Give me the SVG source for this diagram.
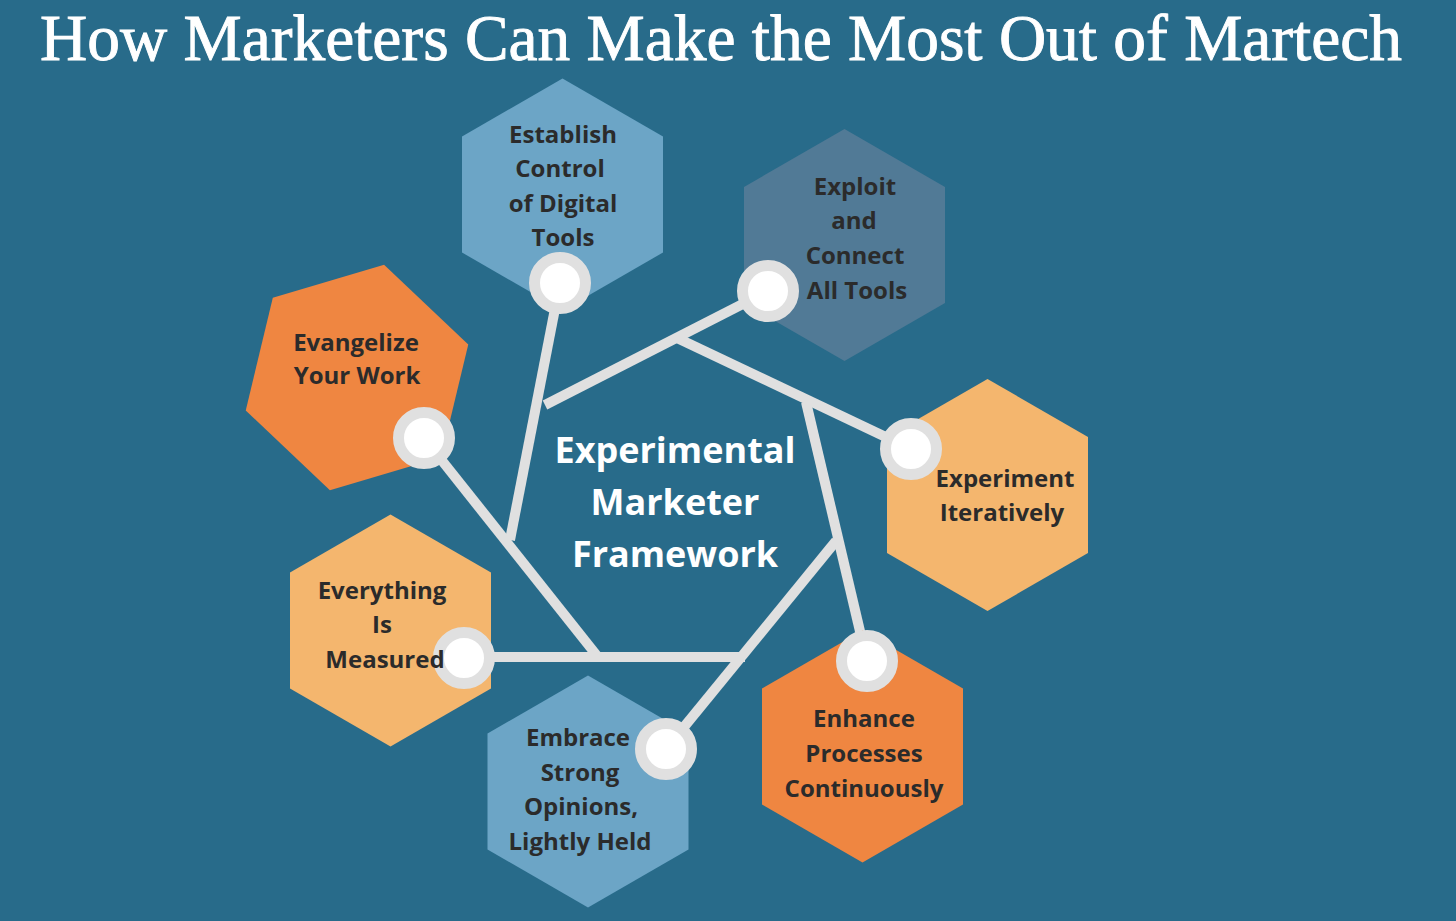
<svg xmlns="http://www.w3.org/2000/svg" width="1456" height="921" viewBox="0 0 1456 921">
<style>
.bg{fill:#286b8a}
.title{font-family:"Liberation Serif",serif;font-size:65px;fill:#ffffff;stroke:#ffffff;stroke-width:0.9}
.lbl{font-family:"Open Sans","Noto Sans",sans-serif;font-weight:700;font-size:24px;fill:#2b2b2b;text-anchor:middle}
.ctr{font-family:"Open Sans","Noto Sans",sans-serif;font-weight:700;font-size:36px;fill:#ffffff;text-anchor:middle}
.blue{fill:#6ca5c6}
.slate{fill:#517a96}
.orange{fill:#ef8641}
.peach{fill:#f4b66e}
.ring{fill:#ffffff;stroke:#e0e0e0;stroke-width:11}
.link{stroke:#e0e0e0;stroke-width:10;fill:none;stroke-linecap:butt}
</style>
<rect class="bg" x="0" y="0" width="1456" height="921"/>
<text class="title" x="40" y="60" textLength="1362" lengthAdjust="spacingAndGlyphs">How Marketers Can Make the Most Out of Martech</text>

<g id="connectors">
<line class="link" x1="510" y1="540" x2="560" y2="283"/>
<line class="link" x1="545" y1="405" x2="768" y2="291"/>
<line class="link" x1="677" y1="338" x2="911" y2="449"/>
<line class="link" x1="806" y1="402" x2="867" y2="661"/>
<line class="link" x1="836" y1="541" x2="666" y2="749"/>
<line class="link" x1="745" y1="657" x2="464" y2="657"/>
<line class="link" x1="598" y1="657" x2="424" y2="438"/>
</g>

<g id="center">
<text class="ctr" x="675" y="463">Experimental</text>
<text class="ctr" x="675" y="515">Marketer</text>
<text class="ctr" x="675" y="567">Framework</text>
</g>

<g id="establish">
<polygon class="blue" points="562.5,78.5 663,136.5 663,252.5 562.5,310.5 462,252.5 462,136.5"/>
<circle class="ring" cx="560" cy="283" r="25.5"/>
<text class="lbl" x="563" y="143">Establish</text>
<text class="lbl" x="560" y="177">Control</text>
<text class="lbl" x="563" y="212">of Digital</text>
<text class="lbl" x="563" y="246">Tools</text>
</g>

<g id="exploit">
<polygon class="slate" points="844.5,129 945,187 945,303 844.5,361 744,303 744,187"/>
<circle class="ring" cx="768" cy="291" r="25.5"/>
<text class="lbl" x="855" y="195">Exploit</text>
<text class="lbl" x="854" y="229">and</text>
<text class="lbl" x="855" y="264">Connect</text>
<text class="lbl" x="857" y="299">All Tools</text>
</g>

<g id="experiment">
<polygon class="peach" points="987.5,379 1088,437 1088,553 987.5,611 887,553 887,437"/>
<circle class="ring" cx="911" cy="449" r="25.5"/>
<text class="lbl" x="1005" y="487">Experiment</text>
<text class="lbl" x="1002" y="521">Iteratively</text>
</g>

<g id="enhance">
<polygon class="orange" points="862.5,630.5 963,688.5 963,804.5 862.5,862.5 762,804.5 762,688.5"/>
<circle class="ring" cx="867" cy="661" r="25.5"/>
<text class="lbl" x="864" y="727">Enhance</text>
<text class="lbl" x="864" y="762">Processes</text>
<text class="lbl" x="864" y="797">Continuously</text>
</g>

<g id="embrace">
<polygon class="blue" points="588,675.5 688.5,733.5 688.5,849.5 588,907.5 487.5,849.5 487.5,733.5"/>
<circle class="ring" cx="666" cy="749" r="25.5"/>
<text class="lbl" x="578" y="746">Embrace</text>
<text class="lbl" x="580" y="781">Strong</text>
<text class="lbl" x="581" y="815">Opinions,</text>
<text class="lbl" x="580" y="850">Lightly Held</text>
</g>

<g id="everything">
<polygon class="peach" points="390.5,514.5 491,572.5 491,688.5 390.5,746.5 290,688.5 290,572.5"/>
<circle class="ring" cx="464" cy="658" r="25.5"/>
<text class="lbl" x="382" y="599">Everything</text>
<text class="lbl" x="382" y="633">Is</text>
<text class="lbl" x="385" y="668">Measured</text>
</g>

<g id="evangelize">
<polygon class="orange" points="357,261.5 457.5,319.5 457.5,435.5 357,493.5 256.5,435.5 256.5,319.5" transform="rotate(13.5 357 377.5)"/>
<circle class="ring" cx="424" cy="438" r="25.5"/>
<text class="lbl" x="356" y="351">Evangelize</text>
<text class="lbl" x="357" y="384">Your Work</text>
</g>
</svg>
